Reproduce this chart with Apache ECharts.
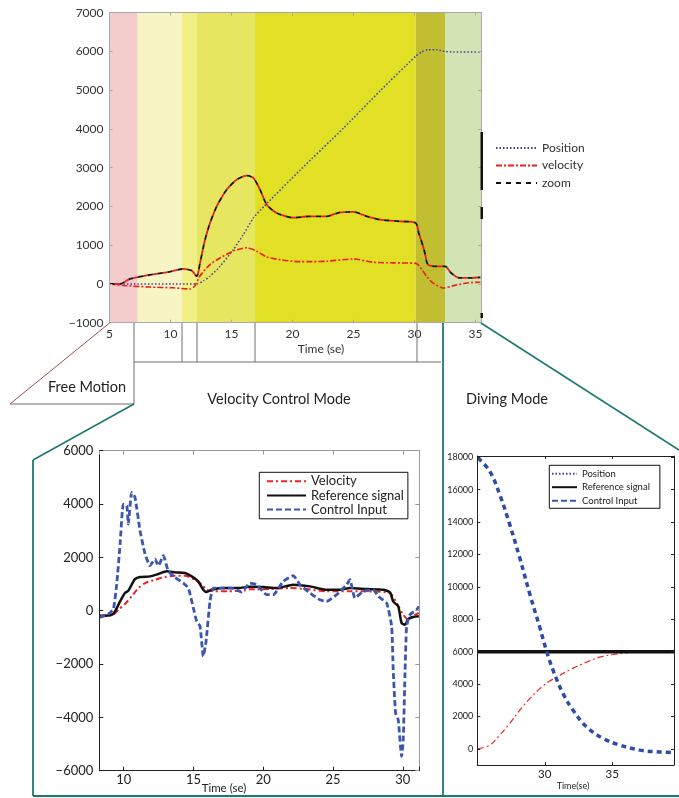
<!DOCTYPE html>
<html><head><meta charset="utf-8">
<script src="https://cdn.jsdelivr.net/npm/echarts@6/dist/echarts.min.js"></script>
<style>html,body{margin:0;padding:0;background:#fff}#c{width:679px;height:798px}</style>
</head><body><div id="c"></div>
<script>
// ---------- DATA ----------
// Top chart: mode bands (time boundaries)
const bandEdges = [5, 7.31, 10.94, 12.15, 16.93, 30.1, 32.5, 35.45];
const topPosition = [[5,0],[12.15,0],[12.7,80],[13.24,200],[14.06,455],[15.15,885],[15.97,1272],[16.79,1703],[17.66,2000],[20.6,2930],[24.17,4020],[27.17,4980],[30.1,5880],[30.6,5990],[31.1,6047],[31.8,6047],[32.5,6000],[33.2,5987],[35.4,5987]];
const topVelocity = [[5,0],[6.1,-40],[8.3,-80],[10.2,-100],[11.6,-130],[12.0,-50],[12.4,200],[13.24,500],[14.06,670],[15.15,850],[16.25,935],[17.07,845],[17.89,697],[18.98,627],[20.6,575],[22.8,585],[24.98,645],[26.6,560],[28.26,545],[30.1,530],[30.7,330],[31.0,196],[31.5,26],[32.36,-103],[33.2,-44],[34.3,26],[35.4,45]];
const topZoom = [[5,0],[5.86,0],[6.68,130],[8.05,220],[9.69,300],[11.05,387],[11.74,343],[12.15,196],[12.42,542],[12.83,1143],[13.24,1574],[13.79,2003],[14.6,2433],[15.43,2692],[16.25,2795],[16.79,2735],[17.34,2433],[17.89,2046],[18.7,1832],[20.07,1710],[21.4,1746],[22.8,1746],[23.9,1849],[24.98,1858],[26.1,1746],[27.17,1660],[28.8,1617],[30.1,1574],[30.35,1316],[30.7,970],[30.85,800],[31.1,498],[31.8,455],[32.5,455],[33.0,284],[33.7,155],[34.4,155],[35.4,170]];
// Bottom-left: velocity control mode
const vcVelocity = [[8.3,-175],[9.26,-150],[9.61,37],[10.09,250],[10.57,537],[11.05,850],[11.53,1037],[12.24,1162],[12.96,1262],[13.67,1312],[14.39,1312],[15.11,1162],[15.59,975],[15.95,787],[16.54,725],[17.49,725],[18.69,760],[19.05,800],[20.48,812],[21.91,850],[23.11,812],[24.54,725],[26.21,725],[27.41,725],[29.08,662],[29.56,287],[30.03,-150],[30.39,-337],[30.75,-187],[31.15,-87]];
const vcReference = [[8.3,-212],[9.14,-150],[9.38,-25],[9.74,350],[10.09,662],[10.33,750],[10.57,975],[10.81,1187],[11.17,1262],[11.88,1287],[12.48,1375],[13.08,1475],[13.67,1437],[14.39,1412],[14.87,1287],[15.34,1100],[15.7,787],[15.95,700],[16.3,787],[17.02,850],[18.21,850],[19.05,900],[20.0,887],[20.96,850],[22.15,975],[23.35,912],[24.54,787],[25.49,787],[26.21,850],[27.41,812],[28.6,787],[29.08,687],[29.31,350],[29.67,162],[29.91,-462],[30.15,-525],[30.39,-312],[30.75,-237],[31.15,-212]];
const vcControl = [[8.25,-250],[8.9,-125],[9.26,62],[9.5,1000],[9.74,2500],[9.97,4000],[10.22,3937],[10.33,3250],[10.57,4437],[10.81,4250],[11.17,3000],[11.53,2125],[11.88,1687],[12.24,1937],[12.48,1687],[12.84,2062],[13.2,1475],[13.67,1250],[14.27,1037],[14.63,850],[14.99,100],[15.23,-400],[15.47,-587],[15.7,-1712],[15.9,-1150],[16.18,350],[16.42,850],[17.02,850],[17.74,850],[18.45,700],[19.05,1037],[19.53,975],[20.24,600],[20.72,600],[21.43,1100],[22.15,1312],[22.63,975],[23.35,662],[24.06,412],[24.54,350],[25.26,600],[25.98,975],[26.21,1162],[26.57,475],[27.16,725],[27.88,787],[28.24,537],[28.84,287],[29.2,-587],[29.31,-2212],[29.48,-3837],[29.67,-4087],[29.91,-5462],[30.03,-4837],[30.15,-2462],[30.27,-587],[30.51,-150],[30.99,37],[31.15,162]];
// Bottom-right: diving mode
const dvPosition = [[25.05,0],[25.92,228],[26.66,843],[27.4,1562],[28.14,2380],[28.89,3100],[29.63,3715],[30.37,4182],[31.11,4532],[32.1,4982],[33.1,5351],[34.08,5658],[35.07,5824],[36.06,5929],[36.6,5990]];
const dvReference = [[25,6000],[39.58,6000]];
const dvControl = [[25.05,17958],[25.92,17140],[26.66,15705],[27.4,13862],[28.14,11808],[28.89,9557],[29.63,7503],[30.12,6070],[30.62,4840],[31.36,3407],[32.1,2380],[33.1,1353],[34.33,640],[35.57,228],[37.05,-80],[38.29,-184],[39.53,-225]];
// Labels
const topLegend = ['Position', 'velocity', 'zoom'];
const vcLegend = ['Velocity', 'Reference signal', 'Control Input'];
const dvLegend = ['Position', 'Reference signal', 'Control Input'];
const modeLabels = ['Free Motion', 'Velocity Control Mode', 'Diving Mode'];

// ---------- STYLE ----------
const FONT = 'Lato';
const bandColors = ['#f4cccc', '#f8f5c4', '#f2ef86', '#e7e660', '#e1e024', '#c1bf31', '#d2e4b3'];
const TEAL = '#1d7a73';
const GRAY = '#6f6f6f';
const minus = s => String(s).replace('-', '\u2212');
const isMult = (v, m) => Math.abs(v - Math.round(v / m) * m) < 1e-6;

function axisPair(grid, min, max, extra, color, tickLen, labelOpt, isX, leftColor) {
  const base = Object.assign({ type: 'value', gridIndex: grid, min: min, max: max, splitLine: { show: false }, z: 10 }, extra);
  const main = Object.assign({}, base, {
    position: isX ? 'bottom' : 'left',
    axisLine: { show: true, onZero: false, lineStyle: { color: leftColor || color, width: 1 } },
    axisTick: { show: true, inside: true, length: tickLen, lineStyle: { color: leftColor || color } },
    axisLabel: labelOpt
  });
  const sec = Object.assign({}, base, {
    position: isX ? 'top' : 'right',
    axisLine: { show: true, onZero: false, lineStyle: { color: color, width: 1 } },
    axisTick: { show: true, inside: true, length: tickLen, lineStyle: { color: color } },
    axisLabel: { show: false }
  });
  return [main, sec];
}

const xAxes = [].concat(
  axisPair(0, 5, 35.45, { interval: 5 }, '#a8a8a8', 3,
    { color: '#333', fontSize: 12, fontFamily: FONT, margin: 5, formatter: v => isMult(v, 5) ? String(v) : '' }, true),
  axisPair(1, 8.25, 31.18, { minInterval: 5, maxInterval: 5 }, '#999', 4,
    { color: '#222', fontSize: 13, fontFamily: FONT, margin: 3, formatter: v => isMult(v, 5) ? String(Math.round(v)) : '' }, true, '#222'),
  axisPair(2, 25, 39.58, { interval: 5 }, '#222', 3,
    { color: '#222', fontSize: 11.5, fontFamily: FONT, margin: 3, formatter: v => (v === 30 || v === 35) ? String(v) : '' }, true)
);
const yAxes = [].concat(
  axisPair(0, -1000, 7000, { interval: 1000 }, '#a8a8a8', 3,
    { color: '#333', fontSize: 12, fontFamily: FONT, margin: 6, formatter: v => minus(v) }, false),
  axisPair(1, -6000, 6000, { interval: 2000 }, '#999', 4,
    { color: '#222', fontSize: 13, fontFamily: FONT, margin: 6, formatter: v => minus(v) }, false, '#222'),
  axisPair(2, -1000, 18080, { minInterval: 2000, maxInterval: 2000 }, '#222', 3,
    { color: '#222', fontSize: 9, fontFamily: FONT, margin: 4, formatter: v => (isMult(v, 2000) && v >= 0) ? String(Math.round(v)) : '' }, false)
);

const bandData = bandColors.map((c, i) => [{ xAxis: bandEdges[i], itemStyle: { color: c } }, { xAxis: bandEdges[i + 1] }]);

function line(name, data, xi, yi, color, width, type, extra) {
  return Object.assign({
    name: name, type: 'line', data: data, xAxisIndex: xi, yAxisIndex: yi,
    symbol: 'none', showSymbol: false, animation: false, z: 2,
    lineStyle: { color: color, width: width, type: type },
    itemStyle: { color: color }
  }, extra || {});
}

const series = [
  line(topLegend[0], topPosition, 0, 0, '#3d3d9e', 1.5, [1.5, 2], {
    smooth: 0.2,
    markArea: { silent: true, z: 1, data: bandData }
  }),
  line(topLegend[1], topVelocity, 0, 0, '#ee1c1c', 1.6, [6, 2, 2, 2], { smooth: 0.25 }),
  line('', topZoom, 0, 0, '#ee1c1c', 1.8, [5, 5], { smooth: 0.25, lineStyle: { color: '#ee1c1c', width: 1.8, type: [5, 5], dashOffset: 5 } }),
  line(topLegend[2], topZoom, 0, 0, '#111', 1.8, [5, 5], { smooth: 0.25 }),

  line(vcLegend[0], vcVelocity, 2, 2, '#ee2222', 2, [6, 3, 2, 3], { smooth: 0.2 }),
  line(vcLegend[1], vcReference, 2, 2, '#111', 2.5, 'solid', { smooth: 0.2 }),
  line(vcLegend[2], vcControl, 2, 2, '#3a56b0', 2.8, [6, 3], { smooth: 0.15 }),

  line(dvLegend[0], dvPosition, 4, 4, '#ee2222', 1.2, [6, 3, 2, 3], { smooth: 0.4 }),
  line(dvLegend[1], dvReference, 4, 4, '#111', 3.5, 'solid'),
  line(dvLegend[2], dvControl, 4, 4, '#2c4ca8', 3.5, [5, 4], { smooth: 0.4 })
];

const legends = [
  { data: topLegend, orient: 'vertical', left: 495, top: 142, padding: 0, itemWidth: 41, itemHeight: 10, itemGap: 5.5,
    textStyle: { fontSize: 12, fontFamily: FONT, color: '#333', lineHeight: 10 } },
  { data: vcLegend, orient: 'vertical', left: 259.3, top: 472.3, padding: [2.4, 4, 2.7, 6.7], itemWidth: 39, itemHeight: 12, itemGap: 1.2,
    borderColor: '#111', borderWidth: 1, backgroundColor: '#fff',
    textStyle: { fontSize: 13, fontFamily: FONT, color: '#222', lineHeight: 12 } },
  { data: dvLegend, orient: 'vertical', left: 549.3, top: 465.3, padding: [3.4, 10, 2.6, 1.7], itemWidth: 25, itemHeight: 10, itemGap: 3.5,
    borderColor: '#111', borderWidth: 1, backgroundColor: '#fff',
    textStyle: { fontSize: 9.5, fontFamily: FONT, color: '#222', lineHeight: 10 } }
].map(l => Object.assign({ selectedMode: false, inactiveColor: '#ccc', itemStyle: { opacity: 0 } }, l));

function L(x1, y1, x2, y2, color, w) {
  return { type: 'line', silent: true, z: 20, shape: { x1, y1, x2, y2 }, style: { stroke: color, lineWidth: w } };
}
function T(text, x, y, size, color) {
  return { type: 'text', silent: true, z: 20, x: x, y: y,
    style: { text: text, x: 0, y: 0, fill: color || '#222', font: size + 'px ' + FONT,
      align: 'center', verticalAlign: 'middle', textAlign: 'center', textVerticalAlign: 'middle' } };
}
function R(x, y, w, h, color) {
  return { type: 'rect', silent: true, z: 20, shape: { x, y, width: w, height: h }, style: { fill: color } };
}

const graphic = [
  // bracket under top axis
  L(134, 323, 134, 404, GRAY, 1),
  L(182, 323, 182, 362, GRAY, 1),
  L(197, 323, 197, 362, GRAY, 1),
  L(255, 323, 255, 362, GRAY, 1),
  L(417, 323, 417, 362, GRAY, 1),
  L(134, 362, 441, 362, GRAY, 1),
  // free motion wedge
  L(109.5, 323, 10, 404, '#a0504c', 1),
  L(10, 404, 134, 404, GRAY, 1),
  // teal frames
  L(134, 404, 33, 460, TEAL, 1.6),
  L(33, 460, 33, 796, TEAL, 1.8),
  L(33, 796, 679, 796, TEAL, 1.8),
  L(443, 323, 443, 796, TEAL, 1.8),
  L(481, 323, 679, 450, TEAL, 1.6),
  // dark bars on right edge of top plot
  R(480.5, 132, 2.5, 58, '#111'),
  R(480.5, 207, 2.5, 12, '#111'),
  R(480.5, 313, 2.5, 5, '#111'),
  // texts
  T(modeLabels[0], 87, 387, 14.5),
  T(modeLabels[1], 279, 399, 14.5),
  T(modeLabels[2], 507, 399, 14.5),
  T('Time (se)', 321, 349.5, 12, '#333'),
  T('Time (se)', 224, 788, 11.5),
  T('Time(se)', 573, 786.5, 9)
];

const chart = echarts.init(document.getElementById('c'), null, { renderer: 'canvas' });
chart.setOption({
  animation: false,
  backgroundColor: '#fff',
  grid: [
    { left: 109.5, top: 12.7, width: 371.5, height: 310 },
    { left: 99.3, top: 450.7, width: 320, height: 320 },
    { left: 477.3, top: 456, width: 196.7, height: 309 }
  ],
  xAxis: xAxes,
  yAxis: yAxes,
  legend: legends,
  series: series,
  graphic: graphic
});
</script>
</body></html>
